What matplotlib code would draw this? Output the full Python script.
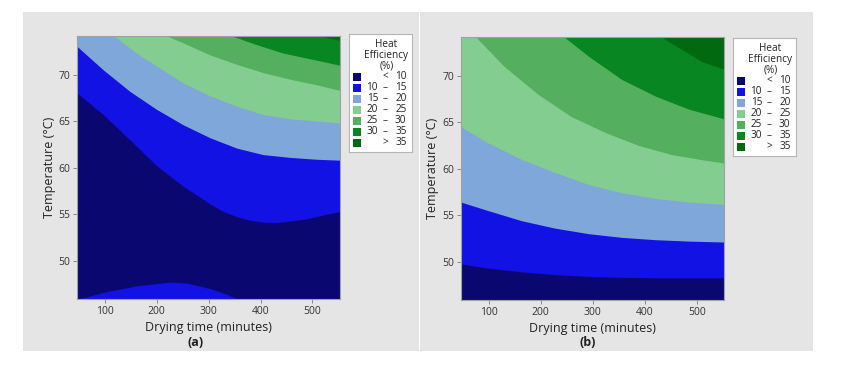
import matplotlib
matplotlib.use("Agg")
import matplotlib.pyplot as plt
from matplotlib.patches import Rectangle

plt.rcParams['font.family'] = ['Open Sans', 'DejaVu Sans']

# axis ranges (central composite design, alpha = sqrt 2)
t_range = [46.9, 553.1]
T_range = [45.86, 74.14]
x_ticks = [100, 200, 300, 400, 500]
y_ticks = [50, 55, 60, 65, 70]

band_colors = ['#0a0870', '#1212e4', '#7fa7da', '#82cd8f', '#54b05f', '#078621', '#01690f']
band_labels = [("", "<", "10"), ("10", "–", "15"), ("15", "–", "20"), ("20", "–", "25"),
               ("25", "–", "30"), ("30", "–", "35"), ("", ">", "35")]

# (a) contour boundaries: drying time -> temperature
a_t10 = [46.9, 97, 148, 200, 251, 303, 328, 354, 380, 405, 431, 483, 553.1]
a_T10 = [68.0, 65.7, 63.0, 60.2, 58.0, 56.1, 55.3, 54.75, 54.35, 54.15, 54.1, 54.45, 55.3]
a_tlow = [46.9, 97, 161, 225, 258, 303, 335, 356]
a_Tlow = [45.86, 46.6, 47.3, 47.7, 47.6, 47.0, 46.4, 45.86]
a_t15 = [46.9, 97, 148, 200, 251, 303, 354, 405, 457, 508, 553.1]
a_T15 = [73.0, 70.5, 68.2, 66.25, 64.6, 63.2, 62.1, 61.4, 61.1, 60.9, 60.8]
a_t20 = [118, 161, 200, 251, 303, 354, 405, 457, 508, 553.1]
a_T20 = [74.14, 72.3, 70.9, 69.1, 67.7, 66.6, 65.7, 65.25, 65.0, 64.8]
a_t25 = [220, 251, 303, 354, 405, 457, 508, 553.1]
a_T25 = [74.14, 73.4, 72.1, 71.1, 70.2, 69.5, 68.9, 68.3]
a_t30 = [345, 393, 444, 495, 553.1]
a_T30 = [74.14, 73.2, 72.3, 71.7, 71.0]
a_t35 = [516, 553.1]
a_T35 = [74.14, 73.65]

# (b)
b_t = [46.9, 98, 163, 227, 292, 356, 421, 485, 553.1]
b_T10 = [49.75, 49.3, 48.9, 48.6, 48.4, 48.3, 48.25, 48.25, 48.25]
b_T15 = [56.4, 55.5, 54.4, 53.6, 53.0, 52.6, 52.35, 52.2, 52.1]
b_T20 = [64.5, 62.8, 61.0, 59.6, 58.3, 57.4, 56.8, 56.4, 56.15]
b_t25 = [76, 130, 195, 259, 324, 388, 453, 517, 553.1]
b_T25 = [74.14, 71.0, 68.0, 65.6, 63.9, 62.5, 61.5, 60.9, 60.6]
b_t30 = [246, 292, 356, 421, 485, 553.1]
b_T30 = [74.14, 72.1, 69.6, 67.8, 66.4, 65.35]
b_t35 = [433, 472, 511, 553.1]
b_T35 = [74.14, 72.8, 71.5, 70.7]

W, H = 845, 365
fig = plt.figure(figsize=(W / 100, H / 100), dpi=100)
fig.patch.set_facecolor('white')


def px_rect(x0, y0, x1, y1):
    # pixel box (top-left origin) -> figure fraction [left, bottom, width, height]
    return [x0 / W, 1 - y1 / H, (x1 - x0) / W, (y1 - y0) / H]


# grey panels behind each plot
for x0, x1 in [(23, 419), (419.6, 813)]:
    r = px_rect(x0, 12, x1, 351)
    fig.add_artist(Rectangle((r[0], r[1]), r[2], r[3], transform=fig.transFigure,
                             facecolor='#e5e5e5', edgecolor='none', zorder=-5))


def draw_panel(box, fills, lows, letter, lab_x):
    ax = fig.add_axes(px_rect(*box))
    ax.set_facecolor(band_colors[0])
    # each band is the region above its lower boundary
    for (t, T), col in zip(fills, band_colors[1:]):
        ax.fill_between(t, T, T_range[1], color=col, lw=0)
    for t, T in lows:
        ax.fill_between(t, T_range[0], T, color=band_colors[1], lw=0)
    ax.set_xlim(t_range)
    ax.set_ylim(T_range)
    ax.set_xticks(x_ticks)
    ax.set_yticks(y_ticks)
    ax.tick_params(length=3, width=0.7, color='#888888', labelsize=7.5,
                   labelcolor='#333333', pad=2)
    for s in ax.spines.values():
        s.set_color('#a0a0a8')
        s.set_linewidth(0.8)
    ax.set_xlabel('Drying time (minutes)', fontsize=9, color='#222222', labelpad=3)
    fig.text(lab_x / W, 1 - 342 / H, letter, ha='center', va='center', fontsize=9,
             fontweight='bold', color='#222222')
    ax.set_ylabel('Temperature (°C)', fontsize=9, color='#222222', labelpad=2)
    return ax


def draw_legend(x0, y0):
    lg = fig.add_axes(px_rect(x0, y0, x0 + 63, y0 + 118))
    lg.set_xlim(0, 63)
    lg.set_ylim(118, 0)
    lg.set_xticks([])
    lg.set_yticks([])
    lg.set_facecolor('white')
    for s in lg.spines.values():
        s.set_color('#b5b5b5')
        s.set_linewidth(0.8)
    for i, line in enumerate(['Heat', 'Efficiency', '(%)']):
        lg.text(37.5, 10.5 + 10.7 * i, line, ha='center', va='center', fontsize=7.2,
                color='#222222')
    for i, (col, (lo, op, hi)) in enumerate(zip(band_colors, band_labels)):
        yc = 42.7 + 11 * i
        lg.add_patch(Rectangle((3.7, yc - 4), 8.3, 8, facecolor=col, edgecolor='none'))
        kw = dict(va='center', fontsize=7.2, color='#222222')
        lg.text(29, yc, lo, ha='right', **kw)
        lg.text(36, yc, op, ha='center', **kw)
        lg.text(57.5, yc, hi, ha='right', **kw)


draw_panel((77.3, 36, 340, 299.3),
           [(a_t10, a_T10), (a_t15, a_T15), (a_t20, a_T20), (a_t25, a_T25),
            (a_t30, a_T30), (a_t35, a_T35)],
           [(a_tlow, a_Tlow)], '(a)', 196)
draw_legend(349, 34)

draw_panel((461, 37.3, 724.3, 300),
           [(b_t, b_T10), (b_t, b_T15), (b_t, b_T20), (b_t25, b_T25),
            (b_t30, b_T30), (b_t35, b_T35)],
           [], '(b)', 588)
draw_legend(733, 38)

fig.savefig('out.png', dpi=100, facecolor='white')
